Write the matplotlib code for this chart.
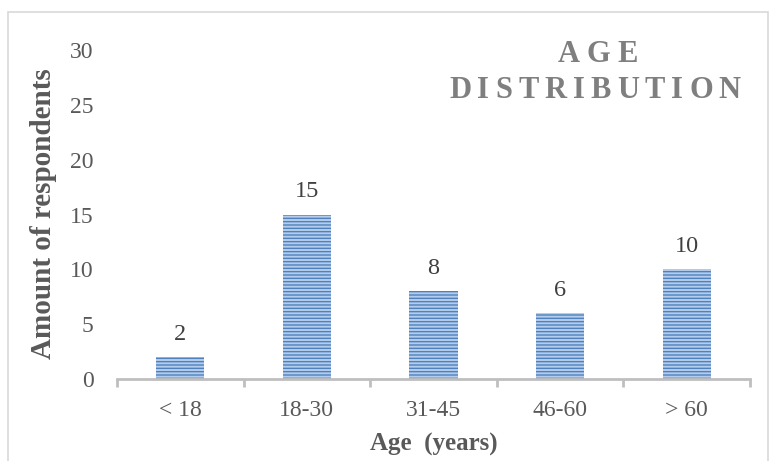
import matplotlib

matplotlib.use("Agg")
import matplotlib.pyplot as plt  # noqa: E402
import numpy as np  # noqa: E402
from matplotlib.patches import Rectangle  # noqa: E402

# respondents per age group
age_groups = ["< 18", "18-30", "31-45", "46-60", "> 60"]
respondents = [2, 15, 8, 6, 10]
y_ticks = [0, 5, 10, 15, 20, 25, 30]

SERIF = "Liberation Serif"
TEXT = "#595959"
AXIS = "#bfbfbf"


def spaced_text(fig, x, y, s, spacing, **kw):
    """Draw s centred on figure coords (x, y) with extra tracking between letters."""
    renderer = fig.canvas.get_renderer()
    parts = [fig.text(0, y, ch, ha="left", va="center", **kw) for ch in s]
    widths = [p.get_window_extent(renderer).width for p in parts]
    total = sum(widths) + spacing * (len(s) - 1)
    fw = fig.bbox.width
    cur = x * fw - total / 2
    for p, w in zip(parts, widths):
        p.set_x(cur / fw)
        cur += w + spacing


fig = plt.figure(figsize=(7.72, 4.61), dpi=100)

# light chart frame
fig.patches.append(Rectangle((8 / 772, -0.02), 760 / 772, 1 - 12 / 461 + 0.02,
                             transform=fig.transFigure, fill=False,
                             edgecolor="#d9d9d9", linewidth=1.2))

ax = fig.add_axes([117 / 772, 1 - 379 / 461, 633 / 772, (379 - 50) / 461])
xs = np.arange(len(age_groups))
bars = ax.bar(xs, respondents, width=0.38, color="#b4cdec",
              edgecolor="#4f81bd", linewidth=0, hatch="-----")

for x, v in zip(xs, respondents):
    ax.annotate(str(v), (x, v), xytext=(0, 9), textcoords="offset points",
                ha="center", va="bottom", fontsize=17.5, family=SERIF, color="#404040")

ax.set_xlim(-0.5, len(age_groups) - 0.5)
ax.set_ylim(0, 30)
ax.set_yticks(y_ticks)
ax.set_xticks(xs)
ax.set_xticklabels(age_groups)
ax.set_xticks(np.arange(len(age_groups) + 1) - 0.5, minor=True)
ax.tick_params(axis="x", which="major", length=0, pad=15)
ax.tick_params(axis="x", which="minor", length=6, width=2, color=AXIS)
ax.tick_params(axis="y", length=0, pad=17)
for lab in ax.get_xticklabels() + ax.get_yticklabels():
    lab.set_fontfamily(SERIF)
    lab.set_fontsize(17)
    lab.set_color(TEXT)

for side in ("top", "right", "left"):
    ax.spines[side].set_visible(False)
ax.spines["bottom"].set_color(AXIS)
ax.spines["bottom"].set_linewidth(2)

ax.set_xlabel("Age  (years)", fontsize=18, family=SERIF, fontweight="bold",
              color=TEXT, labelpad=9)
ax.set_ylabel("Amount of respondents", fontsize=21, family=SERIF,
              fontweight="bold", color=TEXT)
ax.yaxis.set_label_coords(-0.095, 0.503)

title_kw = dict(fontsize=22, family=SERIF, fontweight="bold", color="#7f7f7f")
spaced_text(fig, 598 / 772, 1 - 54 / 461, "AGE", 7, **title_kw)
spaced_text(fig, 595 / 772, 1 - 90 / 461, "DISTRIBUTION", 6, **title_kw)

fig.savefig("out.png", dpi=100)
